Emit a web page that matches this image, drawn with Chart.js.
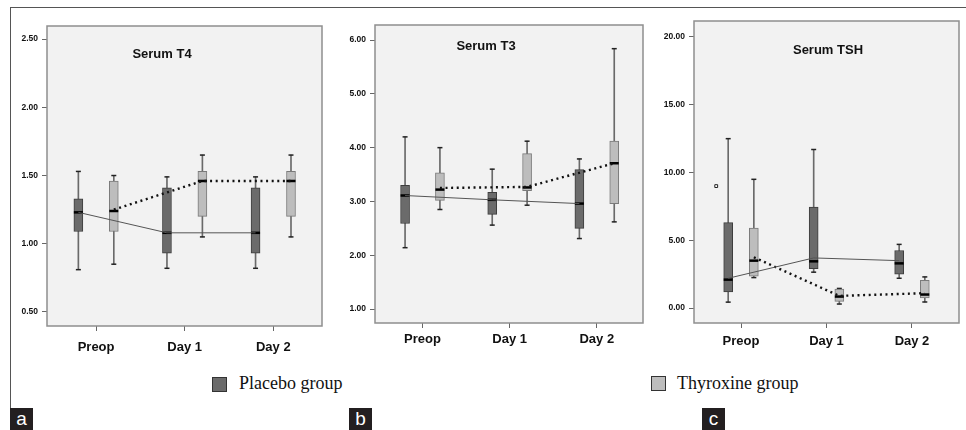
<!DOCTYPE html>
<html>
<head>
<meta charset="utf-8">
<script src="https://cdn.jsdelivr.net/npm/chart.js@4/dist/chart.umd.min.js"></script>
<style>
  html, body { margin: 0; padding: 0; background: #fff; }
  #fig { position: relative; width: 966px; height: 430px; overflow: hidden; }
  .panel { position: absolute; top: 0; }
  .title { position: absolute; font: bold 13px "Liberation Sans", Arial, sans-serif; color: #111; transform: translate(-50%, -50%); white-space: nowrap; }
  .legend-box { position: absolute; width: 13px; height: 13px; border: 1px solid #333; }
  .legend-text { position: absolute; font: 18px "Liberation Serif", "Times New Roman", serif; line-height: 18px; color: #111; white-space: nowrap; }
  .letter { position: absolute; top: 408px; width: 23px; height: 22px; background: #231f20; color: #fff; font: 19px "Liberation Sans", Arial, sans-serif; line-height: 22px; text-align: center; }
  .frame-top { position: absolute; left: 10px; top: 7px; width: 956px; height: 0; border-top: 1.5px solid #555; }
  .frame-left { position: absolute; left: 10px; top: 7px; width: 0; height: 401px; border-left: 1.5px solid #555; }
</style>
</head>
<body>
<div id="fig">
  <div class="frame-top"></div>
  <div class="frame-left"></div>
  <canvas id="chartT4" class="panel" style="left:0px"></canvas>
  <canvas id="chartT3" class="panel" style="left:330px"></canvas>
  <canvas id="chartTSH" class="panel" style="left:650px"></canvas>

  <div class="title" style="left:162px; top:53px">Serum T4</div>
  <div class="title" style="left:486px; top:45px">Serum T3</div>
  <div class="title" style="left:828px; top:49px">Serum TSH</div>

  <div class="legend-box" style="left:212px; top:377px; background:#6b6b6b"></div>
  <div class="legend-text" style="left:239px; top:374px">Placebo group</div>
  <div class="legend-box" style="left:651px; top:376px; background:#bdbdbd"></div>
  <div class="legend-text" style="left:677px; top:374px">Thyroxine group</div>

  <div class="letter" style="left:10px">a</div>
  <div class="letter" style="left:349px">b</div>
  <div class="letter" style="left:702px">c</div>
</div>

<script>
// Trục hoành chung
const categories = ['Preop', 'Day 1', 'Day 2'];

// Mỗi hộp: [min, Q1, trung vị, Q3, max]
// Serum T4
const t4Placebo = [[0.81, 1.09, 1.23, 1.33, 1.53], [0.82, 0.93, 1.08, 1.41, 1.49], [0.82, 0.93, 1.08, 1.41, 1.49]];
const t4Thyroxine = [[0.85, 1.09, 1.24, 1.46, 1.50], [1.05, 1.20, 1.46, 1.53, 1.65], [1.05, 1.20, 1.46, 1.53, 1.65]];
const t4PlaceboTrend = [1.23, 1.08, 1.08];
const t4ThyroxineTrend = [1.25, 1.46, 1.46];
const t4Ticks = [0.5, 1.0, 1.5, 2.0, 2.5];

// Serum T3
const t3Placebo = [[2.14, 2.59, 3.11, 3.30, 4.20], [2.56, 2.76, 3.03, 3.17, 3.60], [2.31, 2.50, 2.96, 3.59, 3.79]];
const t3Thyroxine = [[2.85, 3.02, 3.22, 3.53, 4.00], [2.93, 3.20, 3.26, 3.89, 4.12], [2.62, 2.96, 3.71, 4.12, 5.84]];
const t3PlaceboTrend = [3.11, 3.03, 2.96];
const t3ThyroxineTrend = [3.25, 3.27, 3.71];
const t3Ticks = [1, 2, 3, 4, 5, 6];

// Serum TSH
const tshPlacebo = [[0.44, 1.20, 2.10, 6.30, 12.50], [2.65, 2.90, 3.45, 7.45, 11.70], [2.20, 2.50, 3.30, 4.25, 4.70]];
const tshThyroxine = [[2.25, 2.35, 3.50, 5.90, 9.50], [0.30, 0.50, 0.85, 1.40, 1.45], [0.45, 0.75, 1.00, 2.05, 2.30]];
const tshPlaceboTrend = [2.2, 3.7, 3.5];
const tshThyroxineTrend = [3.75, 0.9, 1.1];
const tshPlaceboOutliers = [{ cat: 0, value: 9.0 }];
const tshTicks = [0, 5, 10, 15, 20];

const FONT = '"Liberation Sans", Arial, sans-serif';

// Nền xám và khung vùng vẽ
const plotFrame = {
    id: 'plotFrame',
    beforeDraw(chart) {
        const { ctx, chartArea: a } = chart;
        ctx.save();
        ctx.fillStyle = '#f2f2f2';
        ctx.fillRect(a.left, a.top, a.right - a.left, a.bottom - a.top);
        ctx.restore();
    },
    beforeDatasetsDraw(chart) {
        const { ctx, chartArea: a } = chart;
        ctx.save();
        ctx.strokeStyle = '#8e8e8e';
        ctx.lineWidth = 1.5;
        ctx.strokeRect(a.left, a.top, a.right - a.left, a.bottom - a.top);
        ctx.restore();
    }
};

function groupDatasets(stats, trend, shift, fill, edge, trendStyle) {
    const xs = stats.map((s, i) => i + 1 + shift);
    return [
        {
            type: 'bar', grouped: false, order: 5, barThickness: 1,
            data: stats.map((s, i) => ({ x: xs[i], y: [s[0], s[4]] })),
            backgroundColor: '#6a6a6a'
        },
        {
            type: 'scatter', order: 4, pointStyle: 'line', pointRadius: 2.5,
            borderColor: '#222', borderWidth: 1.5,
            data: stats.flatMap((s, i) => [{ x: xs[i], y: s[0] }, { x: xs[i], y: s[4] }])
        },
        {
            type: 'bar', grouped: false, order: 3, barThickness: 9,
            data: stats.map((s, i) => ({ x: xs[i], y: [s[1], s[3]] })),
            backgroundColor: fill, borderColor: edge, borderWidth: 1, borderSkipped: false
        },
        {
            type: 'scatter', order: 2, pointStyle: 'line', pointRadius: 4.5,
            borderColor: '#000', borderWidth: 2.5,
            data: stats.map((s, i) => ({ x: xs[i], y: s[2] }))
        },
        Object.assign({
            type: 'line', order: 1, pointRadius: 0, fill: false, tension: 0,
            data: trend.map((v, i) => ({ x: xs[i], y: v }))
        }, trendStyle)
    ];
}

function makePanel(id, cfg) {
    const canvas = document.getElementById(id);
    canvas.width = cfg.width;
    canvas.height = cfg.height;
    canvas.style.width = cfg.width + 'px';
    canvas.style.height = cfg.height + 'px';

    const datasets = [
        ...groupDatasets(cfg.placebo, cfg.placeboTrend, -cfg.shift, '#6b6b6b', '#3d3d3d',
            { borderColor: '#555', borderWidth: 1 }),
        ...groupDatasets(cfg.thyroxine, cfg.thyroxineTrend, cfg.shift, '#bdbdbd', '#7a7a7a',
            { borderColor: '#111', borderWidth: 2.4, borderDash: [2, 3.6] })
    ];
    if (cfg.outliers) {
        datasets.push({
            type: 'scatter', order: 0, pointStyle: 'rect', pointRadius: 2,
            backgroundColor: '#fff', borderColor: '#222', borderWidth: 1,
            data: cfg.outliers.map(o => ({ x: o.cat + 1 - cfg.shift - cfg.outlierNudge, y: o.value }))
        });
    }

    return new Chart(canvas, {
        type: 'bar',
        data: { datasets },
        options: {
            responsive: false,
            animation: false,
            layout: { padding: { top: cfg.top, right: cfg.right, left: 0, bottom: 0 } },
            plugins: { legend: { display: false }, tooltip: { enabled: false } },
            scales: {
                x: {
                    type: 'linear', offset: false, min: cfg.xMin, max: cfg.xMax,
                    afterBuildTicks: s => { s.ticks = categories.map((c, i) => ({ value: i + 1 })); },
                    afterFit: s => { s.height = cfg.xHeight; },
                    grid: { offset: false, drawOnChartArea: false, tickLength: 5, color: '#666' },
                    border: { display: false },
                    ticks: {
                        padding: cfg.xPad, color: '#111',
                        font: { family: FONT, size: 13, weight: 'bold' },
                        callback: v => categories[Math.round(v) - 1]
                    }
                },
                y: {
                    min: cfg.yMin, max: cfg.yMax,
                    afterBuildTicks: s => { s.ticks = cfg.yTicks.map(v => ({ value: v })); },
                    afterFit: s => { s.width = cfg.yWidth; },
                    grid: { drawOnChartArea: false, tickLength: 5, color: '#666' },
                    border: { display: false },
                    ticks: {
                        padding: 4, color: '#111',
                        font: { family: FONT, size: 8.5, weight: 'bold' },
                        callback: v => Number(v).toFixed(2)
                    }
                }
            }
        },
        plugins: [plotFrame]
    });
}

makePanel('chartT4', {
    width: 330, height: 372, top: 26, right: 8, yWidth: 47, xHeight: 46, xPad: 9,
    xMin: 0.446, xMax: 3.55, yMin: 0.397, yMax: 2.596, yTicks: t4Ticks, shift: 0.2,
    placebo: t4Placebo, thyroxine: t4Thyroxine,
    placeboTrend: t4PlaceboTrend, thyroxineTrend: t4ThyroxineTrend
});

makePanel('chartT3', {
    width: 320, height: 372, top: 25, right: 4, yWidth: 45, xHeight: 49, xPad: 4,
    xMin: 0.455, xMax: 3.53, yMin: 0.74, yMax: 6.28, yTicks: t3Ticks, shift: 0.2,
    placebo: t3Placebo, thyroxine: t3Thyroxine,
    placeboTrend: t3PlaceboTrend, thyroxineTrend: t3ThyroxineTrend
});

makePanel('chartTSH', {
    width: 316, height: 372, top: 21, right: 2, yWidth: 44, xHeight: 49, xPad: 6,
    xMin: 0.45, xMax: 3.55, yMin: -1.1, yMax: 21.18, yTicks: tshTicks, shift: 0.15,
    placebo: tshPlacebo, thyroxine: tshThyroxine,
    placeboTrend: tshPlaceboTrend, thyroxineTrend: tshThyroxineTrend,
    outliers: tshPlaceboOutliers, outlierNudge: 0.14
});
</script>
</body>
</html>
